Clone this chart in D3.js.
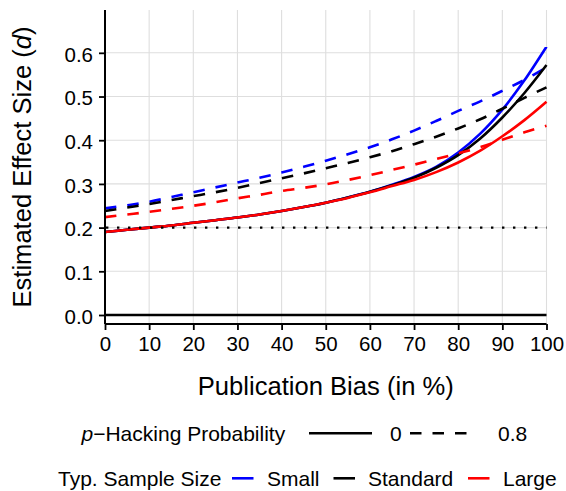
<!DOCTYPE html>
<html>
<head>
<meta charset="utf-8">
<script src="https://cdn.jsdelivr.net/npm/d3@7"></script>
<style>
  html, body { margin: 0; padding: 0; background: #fff; }
  svg { display: block; font-family: "Liberation Sans", Arial, Helvetica, sans-serif; }
</style>
</head>
<body>
<svg id="chart" width="566" height="491"></svg>
<script>
// ---------- data ----------
const pubBias = [0,5,10,15,20,25,30,35,40,45,50,55,60,65,70,75,80,85,90,95,100];

// p-hacking probability 0 (solid)
const smallSolid    = [0.190,0.195,0.200,0.205,0.211,0.217,0.223,0.230,0.238,0.247,0.257,0.269,0.282,0.298,0.316,0.339,0.372,0.415,0.470,0.537,0.614];
const standardSolid = [0.190,0.195,0.200,0.205,0.211,0.217,0.223,0.230,0.238,0.247,0.257,0.269,0.282,0.297,0.314,0.337,0.366,0.404,0.452,0.508,0.572];
const largeSolid    = [0.190,0.195,0.200,0.205,0.211,0.217,0.223,0.230,0.238,0.247,0.257,0.268,0.281,0.295,0.309,0.327,0.349,0.376,0.409,0.446,0.488];

// p-hacking probability 0.8 (dashed)
const smallDashed    = [0.244,0.251,0.259,0.270,0.281,0.292,0.303,0.314,0.326,0.339,0.353,0.368,0.384,0.402,0.422,0.444,0.467,0.489,0.513,0.538,0.567];
const standardDashed = [0.238,0.246,0.254,0.263,0.272,0.281,0.291,0.302,0.313,0.324,0.336,0.348,0.361,0.375,0.391,0.408,0.427,0.448,0.472,0.497,0.521];
const largeDashed    = [0.224,0.230,0.236,0.243,0.250,0.258,0.267,0.275,0.284,0.291,0.299,0.309,0.320,0.332,0.344,0.357,0.370,0.384,0.401,0.418,0.433];

const sampleSizes = ["Small", "Standard", "Large"];
const sizeColors  = ["#0000ff", "#000000", "#ff0000"];
const pHackLevels = ["0", "0.8"];

const xTicks = [0,10,20,30,40,50,60,70,80,90,100];
const yTicks = [0.0,0.1,0.2,0.3,0.4,0.5,0.6];
const trueEffect = 0.2;

// ---------- layout ----------
const svg = d3.select("#chart");
const L = 105, R = 546.5, T = 10, B = 324;
const x = d3.scaleLinear().domain([0, 100]).range([L, R]);
const y = d3.scaleLinear().domain([-0.0206, 0.698]).range([B, T]);

// grid
const grid = svg.append("g").attr("stroke", "#dedede").attr("stroke-width", 1.1);
grid.selectAll("line.gx").data(xTicks).join("line")
  .attr("x1", d => x(d)).attr("x2", d => x(d)).attr("y1", T).attr("y2", B);
grid.selectAll("line.gy").data(yTicks).join("line")
  .attr("x1", L).attr("x2", R).attr("y1", d => y(d)).attr("y2", d => y(d));

// series
const series = [];
const solidData = [smallSolid, standardSolid, largeSolid];
const dashedData = [smallDashed, standardDashed, largeDashed];
sampleSizes.forEach((s, i) => {
  series.push({size: s, color: sizeColors[i], ph: "0", vals: solidData[i]});
  series.push({size: s, color: sizeColors[i], ph: "0.8", vals: dashedData[i]});
});

const line = d3.line()
  .x((d, i) => x(pubBias[i]))
  .y(d => y(d))
  .curve(d3.curveCatmullRom.alpha(0.5));

const dashPattern = "11.5,11";
svg.append("g").selectAll("path").data(series).join("path")
  .attr("d", d => line(d.vals))
  .attr("fill", "none")
  .attr("stroke", d => d.color)
  .attr("stroke-width", 2.6)
  .attr("stroke-dasharray", d => d.ph === "0.8" ? dashPattern : null);

// reference lines
svg.append("line")
  .attr("x1", L).attr("x2", R).attr("y1", y(0)).attr("y2", y(0))
  .attr("stroke", "#000").attr("stroke-width", 2.7);
svg.append("line")
  .attr("x1", L + 1).attr("x2", R).attr("y1", y(trueEffect)).attr("y2", y(trueEffect))
  .attr("stroke", "#000").attr("stroke-width", 2.2)
  .attr("stroke-dasharray", "2.4,8.6");

// axes
const xAxis = d3.axisBottom(x).tickValues(xTicks).tickSize(6).tickPadding(6).tickFormat(d3.format("d"));
const gx = svg.append("g").attr("transform", `translate(0,${B})`).call(xAxis);
gx.select(".domain").attr("stroke-width", 2).attr("d", `M${L},0H${R}`);
gx.selectAll(".tick line").attr("stroke-width", 1.8);
gx.selectAll(".tick text").attr("font-size", 20.5).attr("fill", "#000")
  .attr("font-family", "Liberation Sans, Arial, sans-serif").attr("dy", "0.71em");

const yAxis = d3.axisLeft(y).tickValues(yTicks).tickSize(6).tickPadding(6).tickFormat(d3.format(".1f"));
const gy = svg.append("g").attr("transform", `translate(${L},0)`).call(yAxis);
gy.select(".domain").attr("stroke-width", 2).attr("d", `M0,${T}V${B}`);
gy.selectAll(".tick line").attr("stroke-width", 1.8);
gy.selectAll(".tick text").attr("font-size", 20.5).attr("fill", "#000")
  .attr("font-family", "Liberation Sans, Arial, sans-serif").attr("dy", "0.4em");

// axis titles
svg.append("text")
  .attr("x", (L + R) / 2).attr("y", 395)
  .attr("text-anchor", "middle").attr("font-size", 25.6).attr("fill", "#000")
  .text("Publication Bias (in %)");

const yt = svg.append("text")
  .attr("transform", `translate(31,${(T + B) / 2}) rotate(-90)`)
  .attr("text-anchor", "middle").attr("font-size", 25.6).attr("fill", "#000");
yt.append("tspan").text("Estimated Effect Size (");
yt.append("tspan").attr("font-style", "italic").text("d");
yt.append("tspan").text(")");

// legend row 1: p-hacking probability (linetype)
const lg1 = svg.append("g");
const t1 = lg1.append("text").attr("x", 81.5).attr("y", 440.5).attr("font-size", 21).attr("fill", "#000");
t1.append("tspan").attr("font-style", "italic").text("p");
t1.append("tspan").text("\u2212Hacking Probability");
const ltKeys = [{x0: 309, x1: 372, label: pHackLevels[0], lx: 390, dash: null},
                {x0: 410, x1: 477, label: pHackLevels[1], lx: 498, dash: dashPattern}];
ltKeys.forEach(k => {
  lg1.append("line").attr("x1", k.x0).attr("x2", k.x1).attr("y1", 433.3).attr("y2", 433.3)
    .attr("stroke", "#000").attr("stroke-width", 2.6).attr("stroke-dasharray", k.dash);
  lg1.append("text").attr("x", k.lx).attr("y", 440.5).attr("font-size", 21).attr("fill", "#000").text(k.label);
});

// legend row 2: sample size (colour)
const lg2 = svg.append("g");
lg2.append("text").attr("x", 58).attr("y", 486).attr("font-size", 21).attr("fill", "#000").text("Typ. Sample Size");
const colKeys = [{x0: 232, lx: 267}, {x0: 333.5, lx: 368}, {x0: 468, lx: 503}];
colKeys.forEach((k, i) => {
  lg2.append("line").attr("x1", k.x0).attr("x2", k.x0 + 21.5).attr("y1", 478.3).attr("y2", 478.3)
    .attr("stroke", sizeColors[i]).attr("stroke-width", 2.6);
  lg2.append("text").attr("x", k.lx).attr("y", 486).attr("font-size", 21).attr("fill", "#000").text(sampleSizes[i]);
});
</script>
</body>
</html>
